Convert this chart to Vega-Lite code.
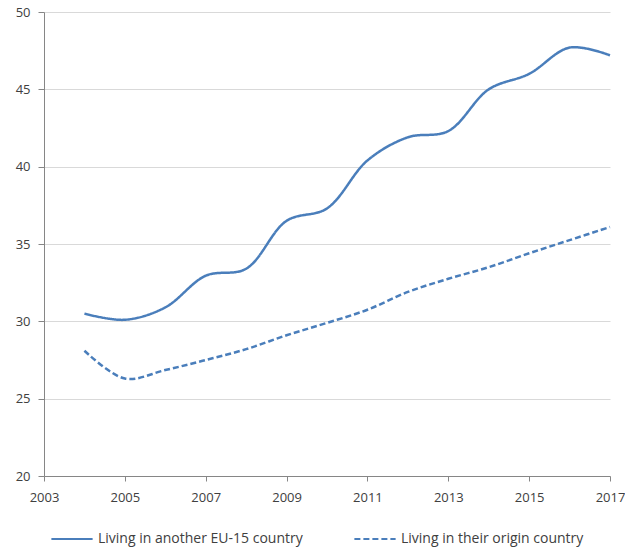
{
  "$schema": "https://vega.github.io/schema/vega-lite/v6.json",
  "width": 566,
  "height": 464,
  "autosize": {"type": "none"},
  "padding": {"left": 44, "top": 12, "right": 15, "bottom": 74},
  "background": "white",
  "data": {
    "values": [
      {"year": 2004, "value": 30.5, "series": "Living in another EU-15 country"},
      {"year": 2005, "value": 30.1, "series": "Living in another EU-15 country"},
      {"year": 2006, "value": 30.9, "series": "Living in another EU-15 country"},
      {"year": 2007, "value": 32.95, "series": "Living in another EU-15 country"},
      {"year": 2008, "value": 33.4, "series": "Living in another EU-15 country"},
      {"year": 2009, "value": 36.5, "series": "Living in another EU-15 country"},
      {"year": 2010, "value": 37.3, "series": "Living in another EU-15 country"},
      {"year": 2011, "value": 40.4, "series": "Living in another EU-15 country"},
      {"year": 2012, "value": 41.9, "series": "Living in another EU-15 country"},
      {"year": 2013, "value": 42.3, "series": "Living in another EU-15 country"},
      {"year": 2014, "value": 45.0, "series": "Living in another EU-15 country"},
      {"year": 2015, "value": 46.0, "series": "Living in another EU-15 country"},
      {"year": 2016, "value": 47.7, "series": "Living in another EU-15 country"},
      {"year": 2017, "value": 47.2, "series": "Living in another EU-15 country"},
      {"year": 2004, "value": 28.1, "series": "Living in their origin country"},
      {"year": 2005, "value": 26.3, "series": "Living in their origin country"},
      {"year": 2006, "value": 26.85, "series": "Living in their origin country"},
      {"year": 2007, "value": 27.5, "series": "Living in their origin country"},
      {"year": 2008, "value": 28.2, "series": "Living in their origin country"},
      {"year": 2009, "value": 29.1, "series": "Living in their origin country"},
      {"year": 2010, "value": 29.9, "series": "Living in their origin country"},
      {"year": 2011, "value": 30.75, "series": "Living in their origin country"},
      {"year": 2012, "value": 31.9, "series": "Living in their origin country"},
      {"year": 2013, "value": 32.75, "series": "Living in their origin country"},
      {"year": 2014, "value": 33.5, "series": "Living in their origin country"},
      {"year": 2015, "value": 34.4, "series": "Living in their origin country"},
      {"year": 2016, "value": 35.25, "series": "Living in their origin country"},
      {"year": 2017, "value": 36.1, "series": "Living in their origin country"}
    ]
  },
  "mark": {"type": "line", "interpolate": "catmull-rom", "strokeWidth": 2.5, "color": "#4A7EBB"},
  "encoding": {
    "x": {
      "field": "year",
      "type": "quantitative",
      "scale": {"domain": [2003, 2017], "nice": false, "zero": false},
      "axis": {
        "title": null,
        "values": [2003, 2005, 2007, 2009, 2011, 2013, 2015, 2017],
        "format": "d",
        "grid": false,
        "domainColor": "#868686",
        "tickColor": "#868686",
        "tickSize": 5,
        "labelPadding": 10,
        "labelFont": "Open Sans",
        "labelFontSize": 13,
        "labelColor": "#404040",
        "labelFlush": false
      }
    },
    "y": {
      "field": "value",
      "type": "quantitative",
      "scale": {"domain": [20, 50], "nice": false, "zero": false},
      "axis": {
        "title": null,
        "values": [20, 25, 30, 35, 40, 45, 50],
        "grid": true,
        "gridColor": "#D9D9D9",
        "domainColor": "#868686",
        "tickColor": "#868686",
        "tickSize": 6,
        "labelPadding": 8,
        "labelFont": "Open Sans",
        "labelFontSize": 13,
        "labelColor": "#404040"
      }
    },
    "strokeDash": {
      "field": "series",
      "type": "nominal",
      "scale": {
        "domain": ["Living in another EU-15 country", "Living in their origin country"],
        "range": [[1, 0], [6, 3]]
      },
      "legend": {
        "title": null,
        "orient": "none",
        "legendX": 6,
        "legendY": 505,
        "direction": "horizontal",
        "symbolType": "stroke",
        "symbolSize": 1700,
        "symbolStrokeWidth": 2.2,
        "symbolStrokeColor": "#4A7EBB",
        "labelFont": "Open Sans",
        "labelFontSize": 14,
        "labelColor": "#404040",
        "labelLimit": 400,
        "labelOffset": 4,
        "columnPadding": 46
      }
    }
  },
  "config": {"view": {"stroke": null}}
}
